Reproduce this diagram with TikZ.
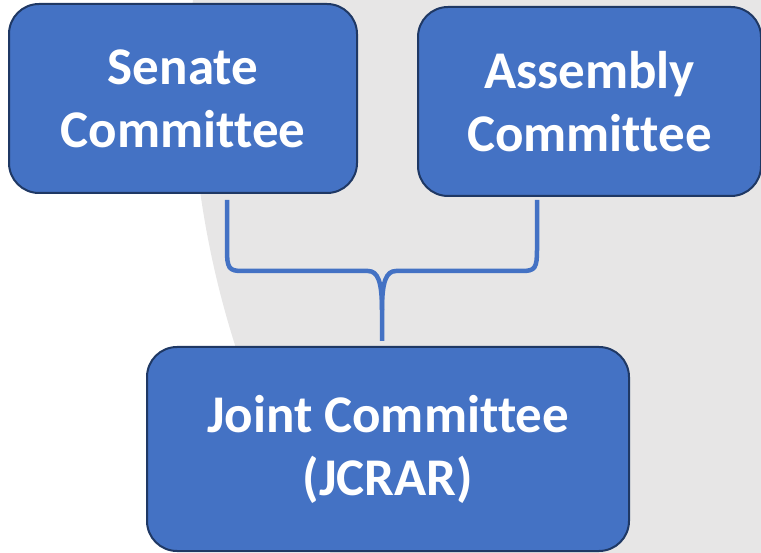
\documentclass[tikz,border=0pt]{standalone}
\usepackage{fontspec}
\setmainfont{Carlito}[Ligatures=NoCommon]
\definecolor{boxblue}{HTML}{4472C4}
\definecolor{boxline}{HTML}{1F3864}
\definecolor{bggray}{HTML}{E7E6E6}
\begin{document}
\begin{tikzpicture}[x=1pt, y=-1pt]
        \tikzstyle{comite}=[rectangle, rounded corners=30pt, draw=boxline, line width=2pt, fill=boxblue, text=white, align=center, font=\fontsize{53}{63}\selectfont\bfseries];
        \tikzstyle{accolade}=[draw=boxblue, line width=4.5pt];

        \useasboundingbox (0,0) rectangle (761,553);
        \begin{scope}
          \clip (0,0) rectangle (761,553);
          \fill[bggray] (1131,60) circle[radius=940];
        \end{scope}

        \node[comite, minimum width=348pt, minimum height=189pt] (senat) at (183,98.5) {Senate\\Committee};
        \node[comite, minimum width=343pt, minimum height=189pt] (assemblee) at (589.5,101.5) {Assembly\\Committee};
        \node[comite, minimum width=482pt, minimum height=204pt] (joint) at (388,449) {Joint Committee\\(JCRAR)};

        \coordinate (senat pied) at (227,200);
        \coordinate (assemblee pied) at (537,200);
        \coordinate (joint tete) at (382,341);

        \draw[accolade] (senat pied) -- (227,250) .. controls (227,268) and (229,271) .. (242,271) -- (368,271) .. controls (378,271) and (382,282) .. (382,310) -- (joint tete);
        \draw[accolade] (assemblee pied) -- (537,250) .. controls (537,268) and (535,271) .. (522,271) -- (396,271) .. controls (386,271) and (382,282) .. (382,310);
    \end{tikzpicture}
\end{document}
